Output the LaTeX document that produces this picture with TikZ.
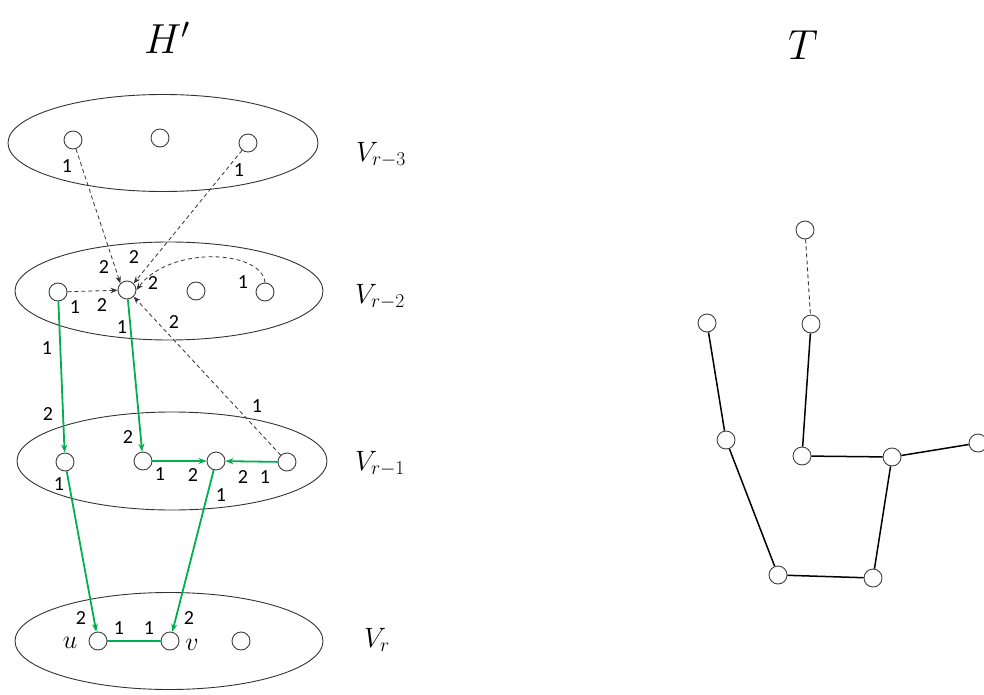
\RequirePackage{fix-cm}
\documentclass[tikz,border=0pt]{standalone}
\usepackage{fontspec}
\newfontfamily\lab{Carlito}
\usetikzlibrary{arrows.meta,shapes.geometric}
\definecolor{grn}{RGB}{0,176,80}
\begin{document}
\begin{tikzpicture}[x=1pt,y=-1pt,
 v/.style={circle,draw=black!75,line width=0.9pt,minimum size=18pt,inner sep=0pt,fill=white},
 layer/.style={ellipse,draw=black!80,line width=0.9pt,inner sep=0pt},
 ge/.style={draw=grn,line width=1.8pt,-{Stealth[length=8pt,width=6pt]}},
 gl/.style={draw=grn,line width=1.8pt},
 de/.style={draw=black!80,line width=0.8pt,dash pattern=on 4pt off 3pt,-{Stealth[length=7pt,width=5.5pt]}},
 num/.style={font=\lab\fontsize{20}{20}\selectfont,inner sep=0pt},
 ml/.style={font=\fontsize{28}{28}\selectfont,inner sep=0pt},
 vl/.style={font=\fontsize{26}{26}\selectfont,inner sep=0pt},
 tl/.style={font=\fontsize{42}{42}\selectfont,inner sep=0pt},
 te/.style={draw=black,line width=1.5pt},
 tde/.style={draw=black!80,line width=0.9pt,dash pattern=on 4pt off 3pt}]
\useasboundingbox[fill=white] (0,0) rectangle (984,695);

% titles
\node[tl] (Htitle) at (167,38) {$H'$};
\node[tl] (Ttitle) at (803,45) {$T$};

% layers
\node[layer,minimum width=310pt,minimum height=97pt] (L3) at (163,143) {};
\node[layer,minimum width=308pt,minimum height=98pt] (L2) at (169,291) {};
\node[layer,minimum width=310pt,minimum height=98pt] (L1) at (172,461) {};
\node[layer,minimum width=308pt,minimum height=97pt] (L0) at (169,641) {};

\node[ml] (V3) at (381,155) {$V_{r-3}$};
\node[ml] (V2) at (380,297) {$V_{r-2}$};
\node[ml] (V1) at (380,464) {$V_{r-1}$};
\node[ml] (V0) at (377,640) {$V_{r}$};

% vertices of H'
\node[v] (p1) at (73,140) {};
\node[v] (p2) at (160,138) {};
\node[v] (p3) at (248,143) {};

\node[v] (a) at (58,292) {};
\node[v] (b) at (127,290) {};
\node[v] (c) at (196,291) {};
\node[v] (d) at (265,292) {};

\node[v] (e) at (65,462) {};
\node[v] (f) at (143,461) {};
\node[v] (g) at (216,461) {};
\node[v] (h) at (287,462) {};

\node[v] (u) at (98,641) {};
\node[v] (w) at (170,641) {};
\node[v] (x) at (241,641) {};

% dashed edges
\draw[de] (p1) -- (b.north west);
\draw[de] (p3) -- (b.north east);
\draw[de] (d.north) .. controls (262,250) and (170,245) .. (b.east);
\draw[de] (a) -- (b);
\draw[de] (h) -- (b.south east);

% green edges
\draw[ge] (a) -- (e);
\draw[ge] (b) -- (f);
\draw[ge] (f) -- (g);
\draw[ge] (h) -- (g);
\draw[ge] (e) -- (u);
\draw[ge] (g) -- (w);
\draw[gl] (u) -- (w);

% labels
\node[num] (n1) at (67,166) {1};
\node[num] (n2) at (239,170) {1};
\node[num] (n3) at (104,267) {2};
\node[num] (n4) at (134,257) {2};
\node[num] (n5) at (153,283) {2};
\node[num] (n6) at (243,282) {1};
\node[num] (n7) at (75,307) {1};
\node[num] (n8) at (102,305) {2};
\node[num] (n9) at (122,327) {1};
\node[num] (n10) at (174,322) {2};
\node[num] (n11) at (47,348) {1};
\node[num] (n12) at (48,414) {2};
\node[num] (n13) at (257,406) {1};
\node[num] (n14) at (128,437) {2};
\node[num] (n15) at (160,474) {1};
\node[num] (n16) at (193,475) {2};
\node[num] (n17) at (243,477) {2};
\node[num] (n18) at (265,477) {1};
\node[num] (n19) at (59,484) {1};
\node[num] (n20) at (221,495) {1};
\node[num] (n21) at (81,618) {2};
\node[num] (n22) at (119,628) {1};
\node[num] (n23) at (149,628) {1};
\node[num] (n24) at (189,618) {2};
\node[vl] (ul) at (70,643) {$u$};
\node[vl] (vl) at (192,645) {$v$};

% tree T
\node[v] (t1) at (805,230) {};
\node[v] (t2) at (811,324) {};
\node[v] (t3) at (707,323) {};
\node[v] (t4) at (726,440) {};
\node[v] (t5) at (802,456) {};
\node[v] (t6) at (892,457) {};
\node[v] (t7) at (978,443) {};
\node[v] (t8) at (778,575) {};
\node[v] (t9) at (873,578) {};
\draw[tde] (t1) -- (t2);
\draw[te] (t2) -- (t5);
\draw[te] (t3) -- (t4);
\draw[te] (t4) -- (t8);
\draw[te] (t8) -- (t9);
\draw[te] (t9) -- (t6);
\draw[te] (t5) -- (t6);
\draw[te] (t6) -- (t7);
\end{tikzpicture}
\end{document}
